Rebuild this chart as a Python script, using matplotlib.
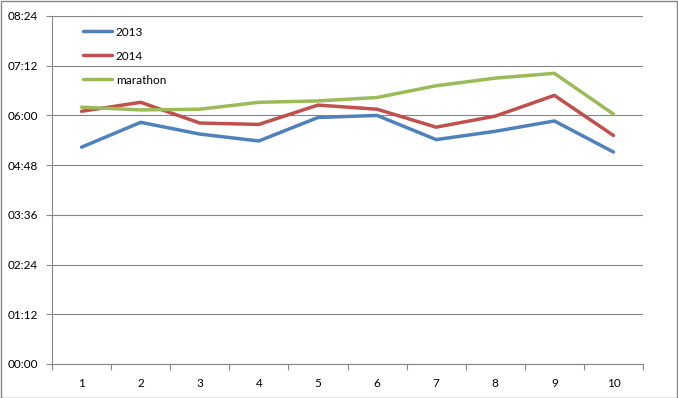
import matplotlib
matplotlib.use("Agg")
import matplotlib.pyplot as plt
from matplotlib.ticker import FuncFormatter, MultipleLocator, FixedLocator
from matplotlib.patches import Rectangle

plt.rcParams['font.family'] = ['Lato', 'DejaVu Sans']

# Allures (min:sec) par course
courses = [1, 2, 3, 4, 5, 6, 7, 8, 9, 10]
allure_2013 = ["5:14", "5:50", "5:33", "5:23", "5:57", "6:00", "5:25", "5:37", "5:52", "5:07"]
allure_2014 = ["6:06", "6:19", "5:49", "5:47", "6:15", "6:09", "5:43", "5:59", "6:29", "5:31"]
allure_marathon = ["6:12", "6:08", "6:09", "6:19", "6:21", "6:26", "6:43", "6:54", "7:01", "6:02"]


def en_secondes(valeurs):
    res = []
    for v in valeurs:
        m, s = v.split(":")
        res.append(int(m) * 60 + int(s))
    return res


def fmt_temps(x, pos):
    x = int(round(x))
    return "%02d:%02d" % (x // 60, x % 60)


fig = plt.figure(figsize=(6.78, 3.98), dpi=100)
ax = fig.add_axes([52 / 678, 34 / 398, 591 / 678, 348 / 398])

ax.plot(courses, en_secondes(allure_2013), color='#4F81BD', lw=2.5, label='2013', solid_capstyle='round')
ax.plot(courses, en_secondes(allure_2014), color='#C0504D', lw=2.5, label='2014', solid_capstyle='round')
ax.plot(courses, en_secondes(allure_marathon), color='#9BBB59', lw=2.5, label='marathon', solid_capstyle='round')

ax.set_ylim(0, 504)
ax.yaxis.set_major_locator(MultipleLocator(72))
ax.yaxis.set_major_formatter(FuncFormatter(fmt_temps))
ax.grid(axis='y', color='#868686', lw=0.8)
ax.set_axisbelow(True)

ax.set_xlim(0.5, 10.5)
ax.xaxis.set_major_locator(FixedLocator([c - 0.5 for c in courses] + [10.5]))
ax.xaxis.set_major_formatter(FuncFormatter(lambda x, p: ""))
ax.xaxis.set_minor_locator(FixedLocator(courses))
ax.set_xticklabels([str(c) for c in courses], minor=True)
ax.tick_params(axis='x', which='minor', length=0, pad=10, labelsize=8.5)
ax.tick_params(axis='x', which='major', length=4, color='#868686')
ax.tick_params(axis='y', length=4, color='#868686', labelsize=8.5, pad=6)

for s in ['top', 'right']:
    ax.spines[s].set_visible(False)
for s in ['left', 'bottom']:
    ax.spines[s].set_color('#868686')
    ax.spines[s].set_linewidth(0.8)

ax.legend(loc='upper left', bbox_to_anchor=(0.034, 1.0), frameon=False, fontsize=8.5,
          labelspacing=1.1, handlelength=2.5, handletextpad=0.3)

fig.patches.append(Rectangle((0.001, 0.001), 0.997, 0.996, transform=fig.transFigure,
                             fill=False, edgecolor='#868686', lw=1))

plt.savefig("out.png", dpi=100)
